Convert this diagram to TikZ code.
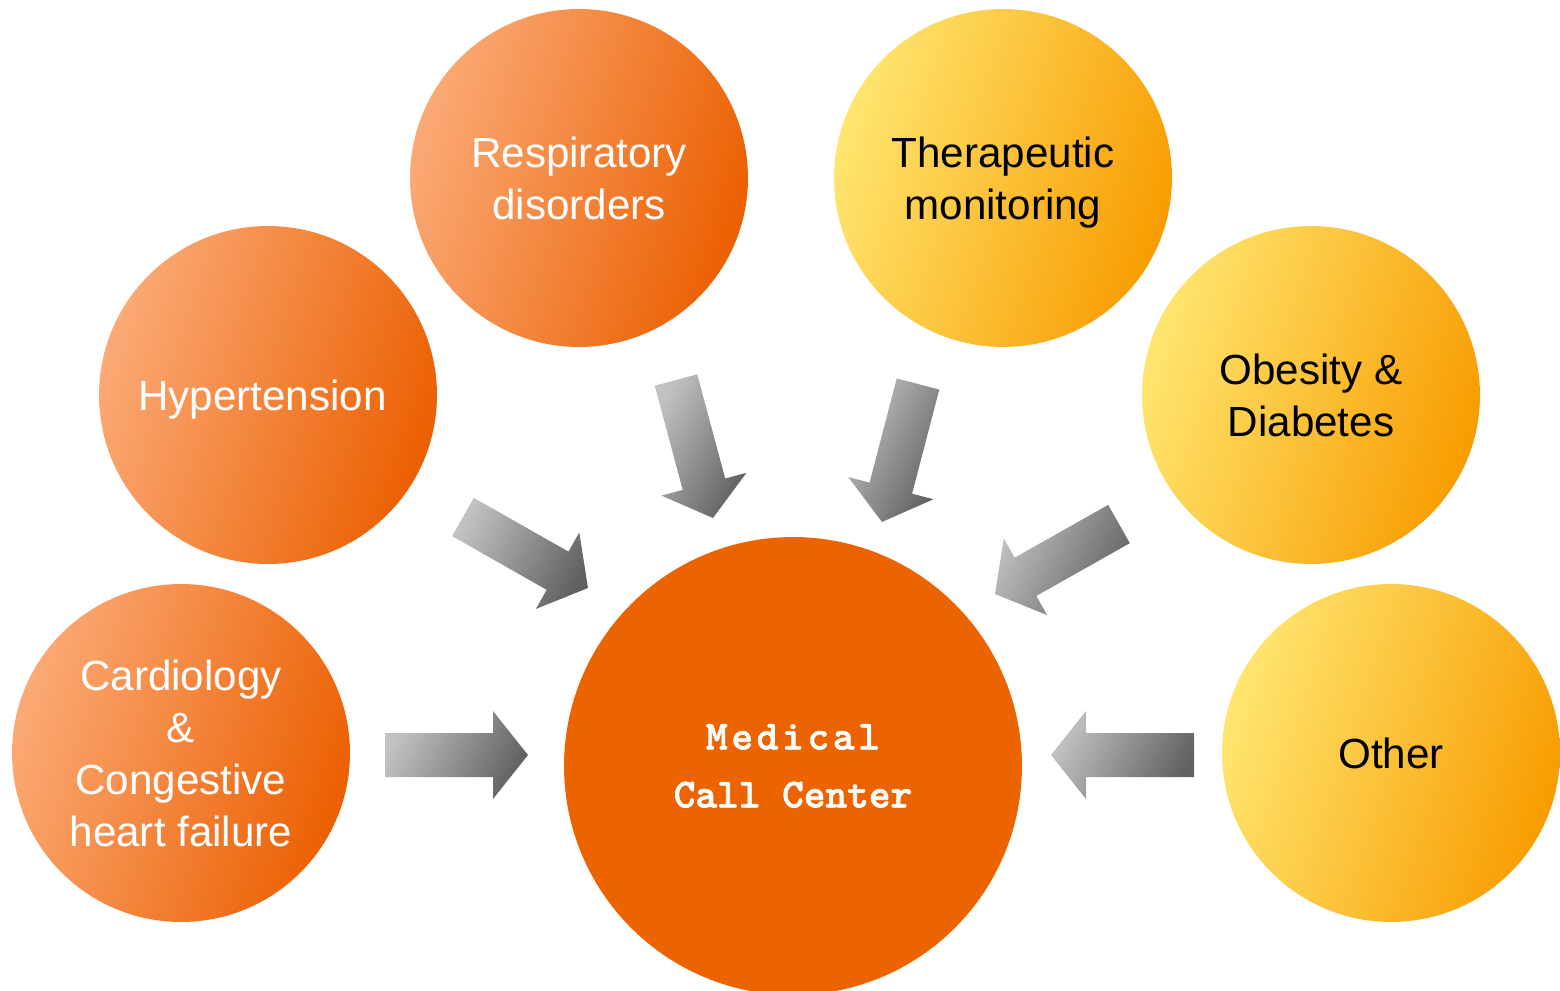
\documentclass[tikz,border=0pt]{standalone}
\usepackage{fontspec}
\setmainfont{Liberation Sans}
\newfontfamily\callfont{lmmonolt10-bold.otf}[FakeBold=1.6]
\usepackage{tikz}
\usetikzlibrary{positioning, calc}

\definecolor{orangelight}{HTML}{FBAA76}
\definecolor{orangedark}{HTML}{EB5F00}
\definecolor{yellowlight}{HTML}{FFE670}
\definecolor{yellowdark}{HTML}{F89C00}
\definecolor{callorange}{HTML}{EC6400}

\tikzset{
    bubble/.style={circle, minimum size=6.76cm, inner sep=0pt, align=center,
        text depth=0pt, font=\fontsize{24}{29.6}\selectfont},
    orangebubble/.style={bubble, left color=orangelight, right color=orangedark,
        shading angle=72, text=white},
    yellowbubble/.style={bubble, left color=yellowlight, right color=yellowdark,
        shading angle=72, text=black},
    callbubble/.style={circle, minimum size=9.16cm, inner sep=0pt, align=center,
        fill=callorange, text=white,
        font=\callfont\fontsize{23.5}{33}\selectfont},
    blockarrow/.style={left color=black!24, right color=black!62, shading angle=62}
}

\begin{document}
\begin{tikzpicture}[x=0.02cm, y=-0.02cm]
    \useasboundingbox (0,0) rectangle (1560,991);

    % disease groups
    \node[orangebubble] (resp) at (579,178) {Respiratory\\disorders};
    \node[yellowbubble] (thera) at (1003,178) {Therapeutic\\monitoring};
    \node[orangebubble] (hyper) at (268,395) {Hypertension\hspace*{16\pgflinewidth}};
    \node[yellowbubble] (obes) at (1311,395) {Obesity \&\\Diabetes};
    \node[orangebubble] (cardio) at (181,753) {Cardiology\\\&\\Congestive\\heart failure};
    \node[yellowbubble] (other) at (1391,753) {Other};

    % call center
    \node[callbubble] (mcc) at (793,766) {{\addfontfeature{LetterSpace=9}Medical}\\Call Center};

    % arrow ends
    \coordinate (hypertail) at (463,517);
    \coordinate (hypertip) at (588,588);
    \coordinate (resptail) at (676,380);
    \coordinate (resptip) at (713,518);
    \coordinate (theratail) at (918,384);
    \coordinate (theratip) at (882,522);
    \coordinate (obestail) at (1119,524);
    \coordinate (obestip) at (995,594);
    \coordinate (cardiotail) at (385,755);
    \coordinate (cardiotip) at (528,755);
    \coordinate (othertail) at (1194,755);
    \coordinate (othertip) at (1051,755);

    % block arrows
    \foreach \tail/\tip in {hypertail/hypertip, resptail/resptip, theratail/theratip,
        obestail/obestip, cardiotail/cardiotip, othertail/othertip}
    {
        \coordinate (headbase) at ($(\tip)!0.7cm!(\tail)$);
        \path[blockarrow]
            ($(\tail)!0.44cm!90:(\tip)$) -- ($(headbase)!0.44cm!90:(\tip)$)
            -- ($(headbase)!0.88cm!90:(\tip)$) -- (\tip)
            -- ($(headbase)!0.88cm!-90:(\tip)$) -- ($(headbase)!0.44cm!-90:(\tip)$)
            -- ($(\tail)!0.44cm!-90:(\tip)$) -- cycle;
    }
\end{tikzpicture}
\end{document}
